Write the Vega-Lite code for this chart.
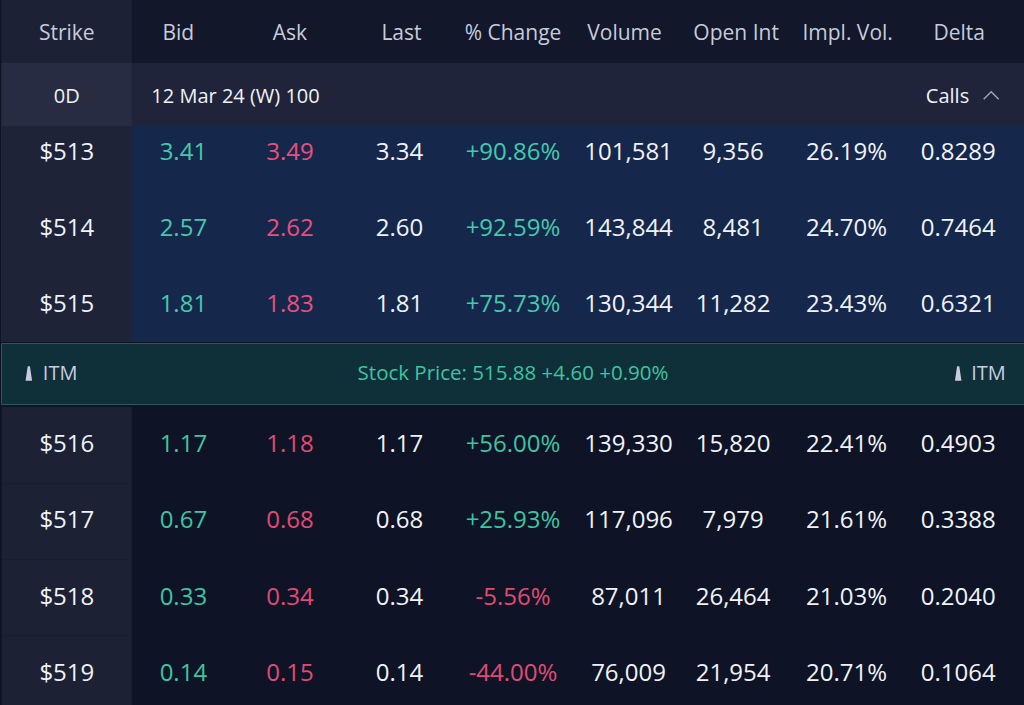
{
  "$schema": "https://vega.github.io/schema/vega-lite/v6.json",
  "padding": 0,
  "spacing": 0,
  "background": "#0e1426",
  "config": {
    "view": {"stroke": null},
    "font": "Open Sans",
    "text": {"font": "Open Sans"},
    "locale": {"number": {"decimal": ".", "thousands": ",", "grouping": [3], "currency": ["$", ""], "minus": "-"}}
  },
  "resolve": {"scale": {"x": "independent", "y": "independent"}},
  "datasets": {
    "chain": [
      {"strike": 513, "bid": 3.41, "ask": 3.49, "last": 3.34, "chg": 0.9086, "volume": 101581, "oi": 9356, "iv": 0.2619, "delta": 0.8289},
      {"strike": 514, "bid": 2.57, "ask": 2.62, "last": 2.60, "chg": 0.9259, "volume": 143844, "oi": 8481, "iv": 0.2470, "delta": 0.7464},
      {"strike": 515, "bid": 1.81, "ask": 1.83, "last": 1.81, "chg": 0.7573, "volume": 130344, "oi": 11282, "iv": 0.2343, "delta": 0.6321},
      {"strike": 516, "bid": 1.17, "ask": 1.18, "last": 1.17, "chg": 0.5600, "volume": 139330, "oi": 15820, "iv": 0.2241, "delta": 0.4903},
      {"strike": 517, "bid": 0.67, "ask": 0.68, "last": 0.68, "chg": 0.2593, "volume": 117096, "oi": 7979, "iv": 0.2161, "delta": 0.3388},
      {"strike": 518, "bid": 0.33, "ask": 0.34, "last": 0.34, "chg": -0.0556, "volume": 87011, "oi": 26464, "iv": 0.2103, "delta": 0.2040},
      {"strike": 519, "bid": 0.14, "ask": 0.15, "last": 0.14, "chg": -0.4400, "volume": 76009, "oi": 21954, "iv": 0.2071, "delta": 0.1064}
    ],
    "columns": [
      {"col": "Strike"}, {"col": "Bid"}, {"col": "Ask"}, {"col": "Last"}, {"col": "% Change"},
      {"col": "Volume"}, {"col": "Open Int"}, {"col": "Impl. Vol."}, {"col": "Delta"}
    ],
    "expiry": [
      {"dte": "0D", "expiry": "12 Mar 24 (W) 100", "side": "Calls"}
    ],
    "quote": [
      {"label": "ITM", "quote": "Stock Price: 515.88 +4.60 +0.90%"}
    ]
  },
  "vconcat": [
    {
      "width": 1024, "height": 63,
      "view": {"fill": "#121729", "stroke": null},
      "data": {"name": "columns"},
      "layer": [
        {"mark": {"type": "rect", "width": 130, "color": "#1c2135"},
         "encoding": {"x": {"datum": "Strike", "type": "nominal", "axis": null,
           "scale": {"type": "band", "domain": ["Strike","Bid","Ask","Last","% Change","Volume","Open Int","Impl. Vol.","Delta"], "paddingOuter": 0.09, "paddingInner": 0}}}},
        {"mark": {"type": "text", "fontSize": 21, "color": "#c6cbdd", "dy": 2},
         "encoding": {"x": {"field": "col", "type": "nominal", "axis": null,
           "scale": {"type": "band", "domain": ["Strike","Bid","Ask","Last","% Change","Volume","Open Int","Impl. Vol.","Delta"], "paddingOuter": 0.09, "paddingInner": 0}},
           "text": {"field": "col"}}}
      ]
    },
    {
      "width": 1024, "height": 63,
      "view": {"fill": "#20243a", "stroke": null},
      "data": {"name": "expiry"},
      "encoding": {"x": {"datum": "Strike", "type": "nominal", "axis": null,
           "scale": {"type": "band", "domain": ["Strike","Bid","Ask","Last","% Change","Volume","Open Int","Impl. Vol.","Delta"], "paddingOuter": 0.09, "paddingInner": 0}}},
      "layer": [
        {"mark": {"type": "rect", "width": 130, "color": "#282c43"},
         "encoding": {"x": {"datum": "Strike", "type": "nominal"}}},
        {"mark": {"type": "text", "fontSize": 20, "color": "#f0f2f8", "dy": 2},
         "encoding": {"x": {"datum": "Strike", "type": "nominal"}, "text": {"field": "dte"}}},
        {"mark": {"type": "text", "fontSize": 20, "color": "#f0f2f8", "align": "left", "dx": -27, "dy": 2},
         "encoding": {"x": {"datum": "Bid", "type": "nominal"}, "text": {"field": "expiry"}}},
        {"mark": {"type": "text", "fontSize": 20, "color": "#f0f2f8", "align": "right", "dx": 10, "dy": 2},
         "encoding": {"x": {"datum": "Delta", "type": "nominal"}, "text": {"field": "side"}}},
        {"mark": {"type": "point", "shape": "M-1,0.5L0,-0.5L1,0.5", "filled": false, "stroke": "#9ba1b6", "strokeWidth": 1.5, "size": 225, "xOffset": 32, "yOffset": 1, "opacity": 1},
         "encoding": {"x": {"datum": "Delta", "type": "nominal"}}}
      ]
    },
    {
      "width": 1024, "height": 216,
      "view": {"fill": "#15284b", "stroke": null},
      "data": {"name": "chain"},
      "transform": [{"filter": "datum.strike < 515.88"}],
      "encoding": {
        "y": {"field": "strike", "type": "ordinal", "axis": null,
              "scale": {"type": "band", "domain": [513, 514, 515], "range": [-12, 216], "paddingInner": 0, "paddingOuter": 0}}
      },
      "layer": [
        {"mark": {"type": "rect", "width": 130, "color": "#1e2337", "clip": true},
         "encoding": {"x": {"datum": "Strike", "type": "nominal", "axis": null,
           "scale": {"type": "band", "domain": ["Strike","Bid","Ask","Last","% Change","Volume","Open Int","Impl. Vol.","Delta"], "paddingOuter": 0.09, "paddingInner": 0}}}},
        {"mark": {"type": "text", "fontSize": 24, "color": "#f0f2f8", "dy": 1},
         "encoding": {"x": {"datum": "Strike", "type": "nominal"}, "text": {"field": "strike", "format": "$d"}}},
        {"mark": {"type": "text", "fontSize": 24, "color": "#45c9ad", "dx": 5, "dy": 1},
         "encoding": {"x": {"datum": "Bid", "type": "nominal"}, "text": {"field": "bid", "format": ".2f"}}},
        {"mark": {"type": "text", "fontSize": 24, "color": "#e8507c", "dy": 1},
         "encoding": {"x": {"datum": "Ask", "type": "nominal"}, "text": {"field": "ask", "format": ".2f"}}},
        {"mark": {"type": "text", "fontSize": 24, "color": "#f0f2f8", "dx": -2, "dy": 1},
         "encoding": {"x": {"datum": "Last", "type": "nominal"}, "text": {"field": "last", "format": ".2f"}}},
        {"mark": {"type": "text", "fontSize": 24, "dy": 1},
         "encoding": {"x": {"datum": "% Change", "type": "nominal"}, "text": {"field": "chg", "format": "+.2%"},
           "color": {"condition": {"test": "datum.chg >= 0", "value": "#45c9ad"}, "value": "#e04b74"}}},
        {"mark": {"type": "text", "fontSize": 24, "color": "#f0f2f8", "dx": 4, "dy": 1},
         "encoding": {"x": {"datum": "Volume", "type": "nominal"}, "text": {"field": "volume", "format": ","}}},
        {"mark": {"type": "text", "fontSize": 24, "color": "#f0f2f8", "dx": -3, "dy": 1},
         "encoding": {"x": {"datum": "Open Int", "type": "nominal"}, "text": {"field": "oi", "format": ","}}},
        {"mark": {"type": "text", "fontSize": 24, "color": "#f0f2f8", "dx": -1, "dy": 1},
         "encoding": {"x": {"datum": "Impl. Vol.", "type": "nominal"}, "text": {"field": "iv", "format": ".2%"}}},
        {"mark": {"type": "text", "fontSize": 24, "color": "#f0f2f8", "dx": -1, "dy": 1},
         "encoding": {"x": {"datum": "Delta", "type": "nominal"}, "text": {"field": "delta", "format": ".4f"}}}
      ]
    },
    {
      "width": 1024, "height": 61,
      "view": {"fill": "#0f3039", "stroke": "#2a575e", "strokeWidth": 1},
      "data": {"name": "quote"},
      "encoding": {"x": {"datum": "Strike", "type": "nominal", "axis": null,
           "scale": {"type": "band", "domain": ["Strike","Bid","Ask","Last","% Change","Volume","Open Int","Impl. Vol.","Delta"], "paddingOuter": 0.09, "paddingInner": 0}}},
      "layer": [
        {"mark": {"type": "point", "shape": "M-0.45,1L-0.15,-1L0.15,-1L0.45,1Z", "filled": true, "color": "#c8cde0", "size": 210, "xOffset": -38, "opacity": 1},
         "encoding": {"x": {"datum": "Strike", "type": "nominal"}}},
        {"mark": {"type": "text", "fontSize": 20, "color": "#c8cde0", "align": "left", "dx": -24},
         "encoding": {"x": {"datum": "Strike", "type": "nominal"}, "text": {"field": "label"}}},
        {"mark": {"type": "text", "fontSize": 20.5, "color": "#3fc3a2"},
         "encoding": {"x": {"datum": "% Change", "type": "nominal"}, "text": {"field": "quote"}}},
        {"mark": {"type": "point", "shape": "M-0.45,1L-0.15,-1L0.15,-1L0.45,1Z", "filled": true, "color": "#c8cde0", "size": 210, "xOffset": -1, "opacity": 1},
         "encoding": {"x": {"datum": "Delta", "type": "nominal"}}},
        {"mark": {"type": "text", "fontSize": 20, "color": "#c8cde0", "align": "left", "dx": 12},
         "encoding": {"x": {"datum": "Delta", "type": "nominal"}, "text": {"field": "label"}}}
      ]
    },
    {
      "width": 1024, "height": 302,
      "view": {"fill": "#0e1426", "stroke": null},
      "data": {"name": "chain"},
      "transform": [{"filter": "datum.strike > 515.88"}],
      "encoding": {
        "y": {"field": "strike", "type": "ordinal", "axis": null,
              "scale": {"type": "band", "domain": [516, 517, 518, 519], "range": [2, 307], "paddingInner": 0, "paddingOuter": 0}}
      },
      "layer": [
        {"mark": {"type": "rect", "width": 130, "color": "#1c2134", "clip": true},
         "encoding": {"x": {"datum": "Strike", "type": "nominal", "axis": null,
           "scale": {"type": "band", "domain": ["Strike","Bid","Ask","Last","% Change","Volume","Open Int","Impl. Vol.","Delta"], "paddingOuter": 0.09, "paddingInner": 0}}}},
        {"mark": {"type": "text", "fontSize": 24, "color": "#f0f2f8"},
         "encoding": {"x": {"datum": "Strike", "type": "nominal"}, "text": {"field": "strike", "format": "$d"}}},
        {"mark": {"type": "text", "fontSize": 24, "color": "#3fc4a2", "dx": 5},
         "encoding": {"x": {"datum": "Bid", "type": "nominal"}, "text": {"field": "bid", "format": ".2f"}}},
        {"mark": {"type": "text", "fontSize": 24, "color": "#e04b74"},
         "encoding": {"x": {"datum": "Ask", "type": "nominal"}, "text": {"field": "ask", "format": ".2f"}}},
        {"mark": {"type": "text", "fontSize": 24, "color": "#f0f2f8", "dx": -2},
         "encoding": {"x": {"datum": "Last", "type": "nominal"}, "text": {"field": "last", "format": ".2f"}}},
        {"mark": {"type": "text", "fontSize": 24},
         "encoding": {"x": {"datum": "% Change", "type": "nominal"}, "text": {"field": "chg", "format": "+.2%"},
           "color": {"condition": {"test": "datum.chg >= 0", "value": "#3fc4a2"}, "value": "#e04b74"}}},
        {"mark": {"type": "text", "fontSize": 24, "color": "#f0f2f8", "dx": 4},
         "encoding": {"x": {"datum": "Volume", "type": "nominal"}, "text": {"field": "volume", "format": ","}}},
        {"mark": {"type": "text", "fontSize": 24, "color": "#f0f2f8", "dx": -3},
         "encoding": {"x": {"datum": "Open Int", "type": "nominal"}, "text": {"field": "oi", "format": ","}}},
        {"mark": {"type": "text", "fontSize": 24, "color": "#f0f2f8", "dx": -1},
         "encoding": {"x": {"datum": "Impl. Vol.", "type": "nominal"}, "text": {"field": "iv", "format": ".2%"}}},
        {"mark": {"type": "text", "fontSize": 24, "color": "#f0f2f8", "dx": -1},
         "encoding": {"x": {"datum": "Delta", "type": "nominal"}, "text": {"field": "delta", "format": ".4f"}}}
      ]
    }
  ]
}
